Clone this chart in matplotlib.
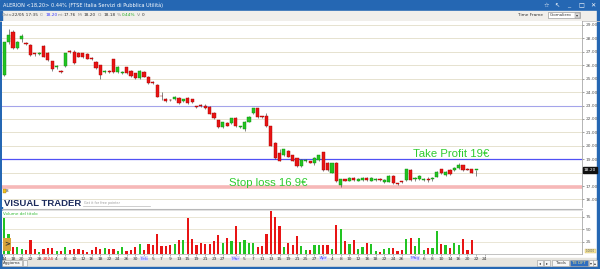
import numpy as np
import matplotlib
matplotlib.use('Agg')
import matplotlib.pyplot as plt
from matplotlib.patches import Rectangle
import matplotlib.transforms as mtransforms

W, H = 600, 269

# daily candles, 14 Dec 2023 -> 22 May 2024
opens = [25.30, 27.70, 28.50, 27.30, 27.95, 27.68, 27.50, 26.88, 26.85, 27.45,
         26.90, 26.30, 25.85, 25.55, 25.95, 27.05, 27.00, 26.95, 26.90, 26.85,
         26.52, 26.27, 26.00, 25.52, 25.58, 26.45, 25.52, 25.42, 25.85, 25.60,
         25.40, 25.03, 25.50, 25.15, 24.72, 24.53, 23.72, 23.50, 23.42, 23.45,
         23.55, 23.30, 23.55, 23.45, 22.95, 23.02, 23.00, 22.90, 22.46, 21.90,
         21.40, 21.70, 21.67, 22.10, 21.38, 21.23, 21.80, 22.47, 22.80, 22.20,
         22.22, 21.47, 20.23, 19.44, 19.31, 19.60, 19.30, 19.07, 18.50, 18.88,
         18.85, 18.75, 18.95, 19.50, 18.75, 18.00, 18.70, 17.10, 17.50, 17.40,
         17.60, 17.40, 17.45, 17.60, 17.40, 17.45, 17.52, 17.33, 17.33, 17.75,
         17.20, 17.32, 17.45, 18.20, 17.52, 17.50, 17.48, 17.52, 17.52, 17.70,
         18.25, 17.80, 18.20, 18.20, 18.32, 18.57, 18.28, 18.25, 18.18]
highs = [27.75, 28.70, 28.60, 27.80, 28.30, 27.75, 27.55, 26.95, 27.00, 27.50,
         27.00, 26.35, 26.00, 25.65, 26.95, 27.10, 27.10, 27.00, 26.95, 26.90,
         26.60, 26.30, 26.05, 25.65, 25.65, 26.50, 25.95, 25.55, 25.90, 25.65,
         25.45, 25.65, 25.55, 25.20, 24.80, 24.60, 24.00, 23.55, 23.50, 23.70,
         23.60, 23.50, 23.60, 23.50, 23.00, 23.10, 23.10, 22.95, 22.50, 21.95,
         21.80, 21.80, 22.10, 22.15, 21.50, 21.85, 22.20, 22.85, 22.85, 22.25,
         22.45, 21.50, 20.30, 19.75, 19.78, 19.65, 19.35, 19.10, 19.00, 18.98,
         18.90, 19.15, 19.35, 19.55, 18.80, 18.75, 18.80, 17.55, 17.55, 17.65,
         17.65, 17.60, 17.65, 17.65, 17.65, 17.60, 17.60, 17.50, 17.80, 17.80,
         17.25, 17.40, 18.30, 18.25, 17.65, 17.80, 17.60, 17.70, 17.65, 18.10,
         18.30, 18.10, 18.25, 18.40, 18.75, 18.60, 18.35, 18.30, 18.20]
lows = [25.20, 27.60, 27.20, 27.20, 27.70, 27.50, 26.70, 26.70, 26.75, 26.60,
        26.30, 25.60, 25.75, 25.40, 25.90, 26.90, 26.10, 26.60, 26.55, 26.45,
        26.40, 25.70, 24.95, 25.45, 25.45, 25.45, 25.45, 25.35, 25.35, 25.15,
        24.95, 24.95, 25.10, 24.60, 24.60, 23.60, 23.40, 23.25, 23.30, 23.40,
        23.15, 23.25, 23.15, 23.20, 22.85, 22.90, 22.75, 22.35, 22.00, 21.35,
        21.30, 21.45, 21.60, 21.40, 21.30, 21.10, 21.75, 22.40, 22.10, 22.10,
        21.40, 19.95, 19.00, 18.85, 19.25, 19.15, 18.85, 18.45, 18.45, 18.80,
        18.70, 18.55, 18.90, 18.15, 18.15, 17.95, 17.30, 16.95, 17.35, 17.35,
        17.40, 17.35, 17.40, 17.40, 17.35, 17.40, 17.40, 17.25, 17.30, 17.15,
        17.10, 17.20, 17.40, 17.40, 17.40, 17.45, 17.40, 17.30, 17.40, 17.65,
        17.90, 17.75, 17.85, 18.15, 18.30, 18.15, 18.20, 17.95, 17.76]
closes = [27.70, 28.25, 27.30, 27.70, 28.20, 27.60, 26.80, 26.82, 26.92, 26.65,
          26.40, 25.70, 25.92, 25.48, 26.90, 27.00, 26.15, 26.65, 26.62, 26.50,
          26.48, 25.77, 25.27, 25.58, 25.52, 25.52, 25.90, 25.48, 25.40, 25.20,
          25.03, 25.60, 25.15, 24.65, 24.68, 23.66, 23.68, 23.30, 23.38, 23.65,
          23.20, 23.45, 23.20, 23.25, 22.90, 22.98, 22.80, 22.40, 22.05, 21.40,
          21.75, 21.50, 22.05, 21.45, 21.42, 21.80, 22.17, 22.80, 22.17, 22.15,
          21.47, 19.98, 19.07, 18.90, 19.74, 19.20, 18.90, 18.50, 18.95, 18.92,
          18.75, 19.10, 19.30, 18.20, 18.20, 18.70, 17.40, 17.50, 17.40, 17.60,
          17.45, 17.55, 17.60, 17.45, 17.60, 17.55, 17.48, 17.45, 17.75, 17.20,
          17.15, 17.28, 18.25, 17.45, 17.58, 17.75, 17.52, 17.48, 17.58, 18.07,
          17.98, 18.07, 17.90, 18.35, 18.57, 18.20, 18.22, 18.00, 18.20]
volumes = [73, 41, 15, 14, 11, 9, 28, 10, 5, 11, 12, 12, 7, 7, 15, 8, 10, 10, 8, 5,
           9, 14, 10, 12, 10, 11, 7, 14, 7, 9, 15, 20, 8, 20, 19, 40, 17, 16, 18, 20,
           28, 28, 72, 31, 18, 22, 20, 20, 26, 38, 22, 32, 27, 56, 25, 29, 23, 23, 15, 16,
           40, 87, 75, 56, 14, 22, 18, 36, 16, 9, 9, 19, 19, 19, 19, 11, 59, 51, 27, 20,
           28, 10, 14, 23, 20, 6, 4, 10, 12, 12, 7, 8, 30, 32, 16, 33, 8, 13, 13, 46,
           20, 18, 13, 22, 19, 31, 9, 28, 1]

tick_pos = [0, 2, 4, 6, 8,
            10, 12, 14, 16, 18, 20, 22, 24, 26, 28, 30,
            32, 34, 36, 38, 40, 42, 44, 46, 48, 50,
            53, 55, 57, 59, 61, 63, 65, 67, 69, 71,
            73, 75, 77, 79, 81, 83, 85, 87, 89, 91,
            94, 96, 98, 100, 102, 104, 106, 108, 110]
tick_labels = ['14', '18', '20', '22', '28',
               '2024', '4', '8', '10', '12', '16', '18', '22', '24', '26', '30',
               'Feb', '5', '7', '9', '13', '15', '19', '21', '23', '27',
               'Mar', '5', '7', '11', '13', '15', '19', '21', '25', '27',
               'Apr', '4', '8', '10', '12', '16', '18', '22', '24', '26',
               'Mag', '6', '8', '10', '14', '16', '20', '22', '24']

price_levels = list(range(16, 30))
vol_levels = [25, 50, 75]
resistance = 23.0
take_profit = 19.0
stop_loss = 16.9
last_price = 18.20

BLUE = '#2567b3'
GREEN = '#22c422'
RED = '#e81414'


def rect(x0, y0, x1, y1):
    return [x0 / W, 1 - y1 / H, (x1 - x0) / W, (y1 - y0) / H]


fig = plt.figure(figsize=(6, 2.69), dpi=100)
fig.patch.set_facecolor('white')

# window frame / bars
bg = fig.add_axes([0, 0, 1, 1], zorder=0)
bg.set_xlim(0, W); bg.set_ylim(H, 0); bg.axis('off')
bg.add_patch(Rectangle((0, 0), W, 11, color=BLUE))
bg.add_patch(Rectangle((0, 11), W, 9, color='#f1efeb'))
bg.plot([0, W], [20.5, 20.5], color='#c4c4c4', lw=0.6)
bg.add_patch(Rectangle((0, 258), W, 9, color='#e6e4de'))
bg.add_patch(Rectangle((0, 266.5), W, 3, color=BLUE))
bg.add_patch(Rectangle((0, 11), 1.5, H, color=BLUE))
bg.add_patch(Rectangle((597, 0), 3, H, color=BLUE))

ax = fig.add_axes(rect(1.5, 21, 582, 207), zorder=1)
axv = fig.add_axes(rect(1.5, 211, 582, 254), zorder=1)

x = np.arange(len(closes))
o = np.array(opens); c = np.array(closes)
up = c >= o
cols = np.where(up, GREEN, RED)
edges = np.where(up, '#0c8a0c', '#a80000')
xmin = -0.62
xmax = xmin + (582 - 1.5) / 4.37

for p in price_levels:
    ax.axhline(p, color='#e6e2cf', lw=0.7, zorder=0)
ax.axhline(resistance, color='#a4a4ea', lw=0.8, zorder=1)
ax.axhline(take_profit, color='#5050f5', lw=0.9, zorder=1)
ax.axhline(stop_loss, color='#f6b8b8', lw=2.6, zorder=1)

ax.vlines(x, lows, highs, color='#555555', lw=0.5, zorder=2)
ax.bar(x, np.maximum(np.abs(c - o), 0.06), bottom=np.minimum(o, c), width=0.72,
       color=cols, edgecolor=edges, lw=0.3, zorder=3)

ax.set_xlim(xmin, xmax)
ax.set_ylim(29 - 182 / 13.42, 29 + 4 / 13.42)
ax.yaxis.tick_right()
ax.set_yticks(price_levels)
ax.set_yticklabels([f'{p:.2f}' for p in price_levels], fontsize=3.2, color='#333333')
ax.tick_params(axis='y', length=1.5, width=0.4, pad=0.8, colors='#555555')
ax.set_xticks([])
for s in ['top', 'left', 'bottom']:
    ax.spines[s].set_visible(False)
ax.spines['right'].set_color('#999999'); ax.spines['right'].set_linewidth(0.5)

ax.text(93.6, 19.19, 'Take Profit 19€', color='#2ecc2e', fontsize=8.2,
        family='Liberation Sans', va='baseline', ha='left', zorder=4)
ax.text(51.5, 17.0, 'Stop loss 16.9€', color='#2ecc2e', fontsize=8.2,
        family='Liberation Sans', va='baseline', ha='left', zorder=4)

trans = mtransforms.blended_transform_factory(ax.transAxes, ax.transData)
ax.text(1.003, last_price, f'{last_price:.2f}', transform=trans, fontsize=3.2,
        color='white', va='center', ha='left', zorder=5,
        bbox=dict(boxstyle='square,pad=0.25', fc='#111111', ec='#111111'))

# volume panel
for v in vol_levels:
    axv.axhline(v, color='#e6e2cf', lw=0.6, zorder=0)
axv.bar(x, volumes, width=0.5, color=cols, zorder=2)
axv.set_xlim(xmin, xmax)
axv.set_ylim(0, (254 - 211) / (37 / 75))
axv.yaxis.tick_right()
axv.set_yticks(vol_levels)
axv.set_yticklabels([str(v) for v in vol_levels], fontsize=3.2, color='#333333')
axv.tick_params(axis='y', length=1.5, width=0.4, pad=0.8, colors='#555555')
axv.set_xticks(tick_pos)
axv.set_xticklabels(tick_labels, fontsize=3.2, color='#333333')
axv.tick_params(axis='x', length=1.2, width=0.4, pad=0.6, colors='#777777')
for lab in axv.get_xticklabels():
    lab.set_color('#333333')
    if lab.get_text() == '2024':
        lab.set_color(RED)
    elif lab.get_text() in ('Feb', 'Mar', 'Apr', 'Mag'):
        lab.set_color('#5a5aff')
        lab.set_bbox(dict(boxstyle='square,pad=0.1', fc='#dcdcff', ec='none'))
axv.spines['top'].set_visible(False)
axv.spines['left'].set_visible(False)
axv.spines['right'].set_color('#999999'); axv.spines['right'].set_linewidth(0.5)
axv.spines['bottom'].set_color('#aaaaaa'); axv.spines['bottom'].set_linewidth(0.5)

# overlay texts and widgets
top = fig.add_axes([0, 0, 1, 1], zorder=5)
top.set_xlim(0, W); top.set_ylim(H, 0); top.axis('off')
top.patch.set_alpha(0)
top.text(3, 5.5, 'ALERION <18,20> 0.44% (FTSE Italia Servizi di Pubblica Utilità)',
         color='white', fontsize=3.6, va='center')
for xi, sym in zip([546, 557, 569, 581, 593], ['☆', '↖', '_', '□', '✕']):
    top.text(xi, 5.5, sym, color='white', fontsize=4.5, va='center', ha='center')
info = [(2, 'Data:', '#888888'), (12, '22/05 17:35', '#333333'),
        (40, 'C:', '#888888'), (45, '18.20', '#3a3aff'),
        (58, 'mi:', '#888888'), (64, '17.76', '#333333'),
        (78, 'M:', '#888888'), (83, '18.20', '#333333'),
        (98, 'O:', '#888888'), (103, '18.18', '#333333'),
        (117, '%:', '#888888'), (122, '0.44%', '#22aa22'),
        (137, 'V:', '#888888'), (142, '0', '#333333')]
for xi, t, col in info:
    top.text(xi, 15, t, color=col, fontsize=3.1, va='center')
top.text(518, 15, 'Time Frame', color='#333333', fontsize=3.1, va='center')
top.add_patch(Rectangle((548, 12), 32, 6, fc='white', ec='#888888', lw=0.4))
top.text(550, 15, 'Giornaliero', color='#333333', fontsize=2.8, va='center')
top.add_patch(Rectangle((575, 12.5), 4.5, 5, fc='#dddddd', ec='#888888', lw=0.3))
top.text(577.2, 15, '▾', color='#333333', fontsize=3, va='center', ha='center')

top.text(4, 206, 'VISUAL TRADER', color='#1b2a5c', fontsize=6.8, weight='bold',
         family='Liberation Sans', va='baseline')
top.text(84, 204, 'Get it for free pointer', color='#999999', fontsize=2.4, va='baseline')
top.plot([83, 150], [205.5, 205.5], color='#bbbbbb', lw=0.5)
top.plot([1.5, 582], [208.5, 208.5], color='#b8b8b8', lw=0.8)
top.plot([1.5, 582], [210, 210], color='#d8d8d8', lw=0.5)
top.add_patch(Rectangle((2.5, 189), 3, 3.5, fc='#f0c020', ec='#806000', lw=0.2))
top.text(6, 191, '8', color='#333333', fontsize=3, va='center')
top.text(3, 214, 'Volume del titolo', color='#33bb33', fontsize=3, va='center')
top.add_patch(Rectangle((3, 238), 7.5, 12.5, fc='#d9a43a', ec='none'))
top.text(6.7, 244.5, '>', color='#333333', fontsize=5, weight='bold', va='center', ha='center')
top.add_patch(Rectangle((585, 249), 11, 4, fc='#f5e6a0', ec='#c0a040', lw=0.2))
top.text(590.5, 251, '1,0000', color='#555555', fontsize=2, va='center', ha='center')

top.add_patch(Rectangle((2, 260), 20, 5.5, fc='#f6f6f6', ec='#999999', lw=0.4))
top.text(12, 262.8, 'Aggiorna', color='#333333', fontsize=2.8, va='center', ha='center')
top.add_patch(Rectangle((23, 260), 4, 5.5, fc='#f6f6f6', ec='#999999', lw=0.4))
for x0, w_, lab, fc, tc in [(537, 6, '◂', '#f6f6f6', '#333333'),
                            (544, 6, '▸', '#f6f6f6', '#333333'),
                            (552, 17, 'Tools', '#f6f6f6', '#333333'),
                            (570, 18, 'TE DFT', '#2f6fc0', '#ffe680'),
                            (589, 4, '▾', '#f6f6f6', '#333333'),
                            (593, 4, '▴', '#f6f6f6', '#333333')]:
    top.add_patch(Rectangle((x0, 260), w_, 5.5, fc=fc, ec='#999999', lw=0.4))
    top.text(x0 + w_ / 2, 262.8, lab, color=tc, fontsize=2.8, va='center', ha='center')

fig.savefig('out.png', dpi=100)
